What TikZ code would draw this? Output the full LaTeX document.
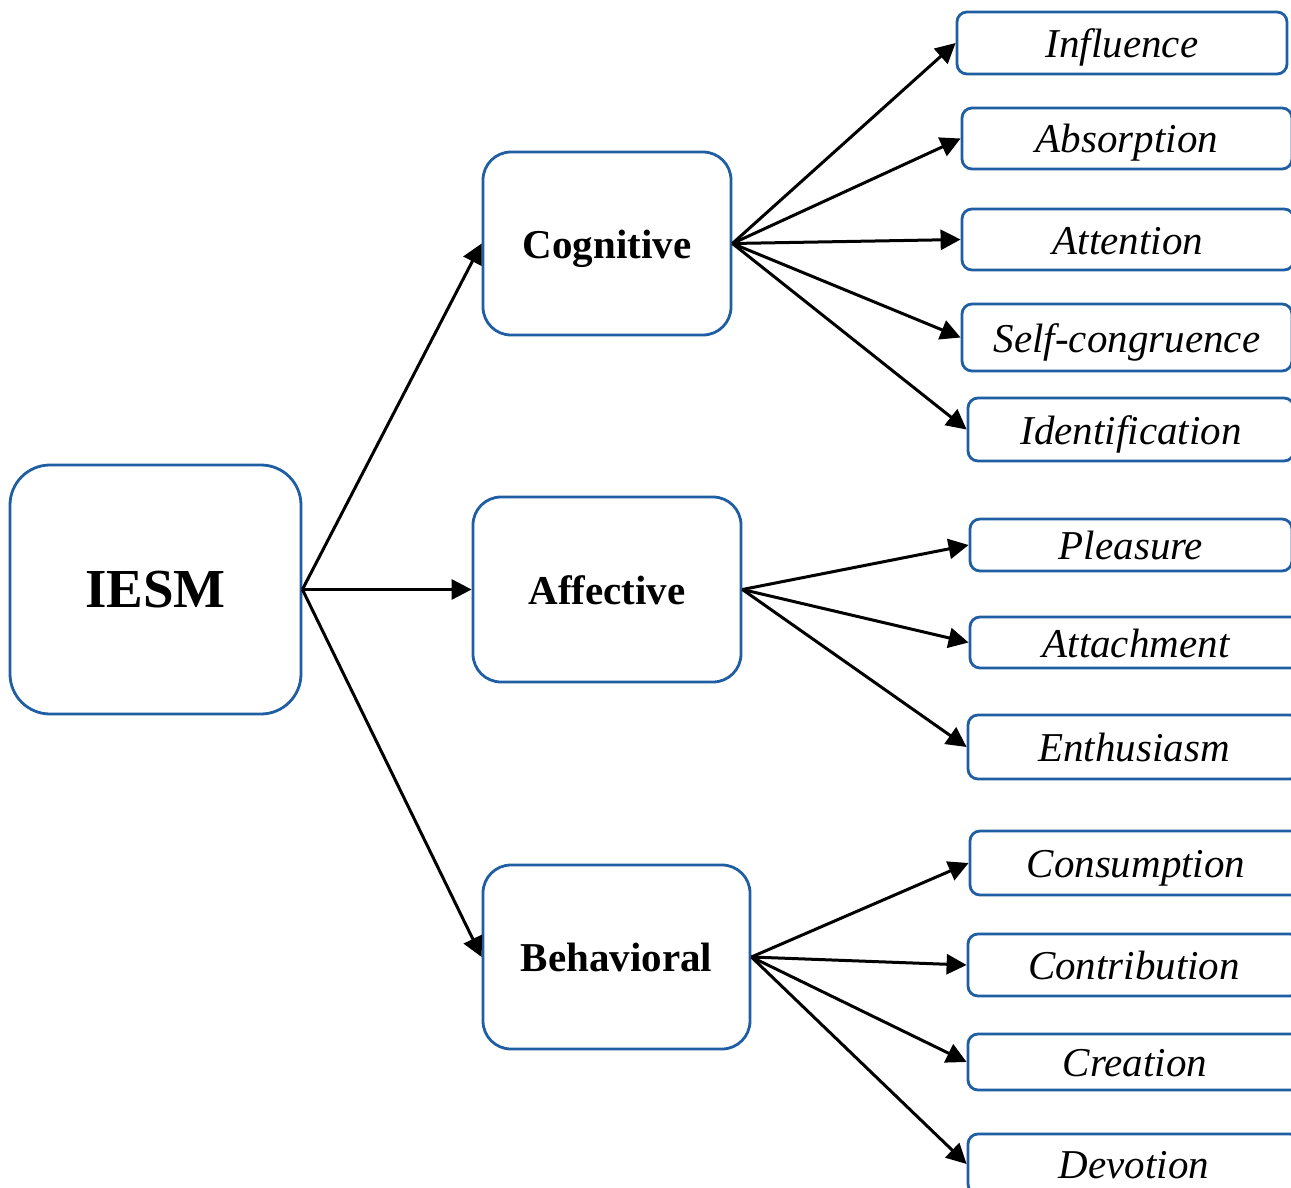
\documentclass[tikz,border=0pt]{standalone}
\usepackage{fontspec}
\setmainfont{Liberation Serif}
\usetikzlibrary{arrows.meta}
\definecolor{boxblue}{RGB}{31,94,163}
\begin{document}
\begin{tikzpicture}[x=1pt,y=-1pt,
 box/.style={draw=boxblue, line width=2.8pt, fill=white, inner sep=0pt, align=center},
 big/.style={box, rounded corners=40pt, text height=42pt, text depth=6pt, font=\fontsize{55}{60}\selectfont\bfseries},
 mid/.style={box, rounded corners=28pt, text height=33pt, text depth=4pt, font=\fontsize{41}{46}\selectfont\bfseries},
 leaf/.style={box, rounded corners=10pt, text height=33pt, text depth=4pt, font=\fontsize{41}{46}\selectfont\itshape},
 arr/.style={line width=3pt, -{Triangle[length=20pt,width=20pt]}}]
\useasboundingbox (0,0) rectangle (1291,1188);
\node[big, minimum width=291pt, minimum height=249pt] (iesm) at (155.5,589.5) {IESM};
\node[mid, minimum width=248pt, minimum height=183pt] (cog) at (607,243.5) {Cognitive};
\node[mid, minimum width=268pt, minimum height=185pt] (aff) at (607,589.5) {Affective};
\node[mid, minimum width=267pt, minimum height=184pt] (beh) at (616.5,957) {Behavioral};

\node[leaf, minimum width=330pt, minimum height=62pt] (infl) at (1122,43) {Influence};
\node[leaf, minimum width=330pt, minimum height=61pt] (abs) at (1127,138.5) {Absorption};
\node[leaf, minimum width=332pt, minimum height=61pt] (att) at (1128,239.5) {Attention};
\node[leaf, minimum width=330pt, minimum height=67pt] (self) at (1127,337.5) {Self-congruence};
\node[leaf, minimum width=326pt, minimum height=63pt] (iden) at (1131,429.5) {Identification};
\node[leaf, minimum width=322pt, minimum height=52pt] (plea) at (1131,545) {Pleasure};
\node[leaf, minimum width=332pt, minimum height=51pt] (atta) at (1136,642.5) {Attachment};
\node[leaf, minimum width=332pt, minimum height=64pt] (enth) at (1134,747) {Enthusiasm};
\node[leaf, minimum width=332pt, minimum height=64pt] (cons) at (1136,863) {Consumption};
\node[leaf, minimum width=332pt, minimum height=62pt] (cont) at (1134,965) {Contribution};
\node[leaf, minimum width=334pt, minimum height=56pt] (crea) at (1135,1062) {Creation};
\node[leaf, minimum width=332pt, minimum height=60pt] (devo) at (1134,1164) {Devotion};

\draw[arr] (iesm.east) -- (cog.west);
\draw[arr] (iesm.east) -- (aff.west);
\draw[arr] (iesm.east) -- (beh.west);

\foreach \t in {infl,abs,att,self,iden} \draw[arr] (cog.east) -- (\t.west);
\foreach \t in {plea,atta,enth} \draw[arr] (aff.east) -- (\t.west);
\foreach \t in {cons,cont,crea,devo} \draw[arr] (beh.east) -- (\t.west);
\end{tikzpicture}
\end{document}
